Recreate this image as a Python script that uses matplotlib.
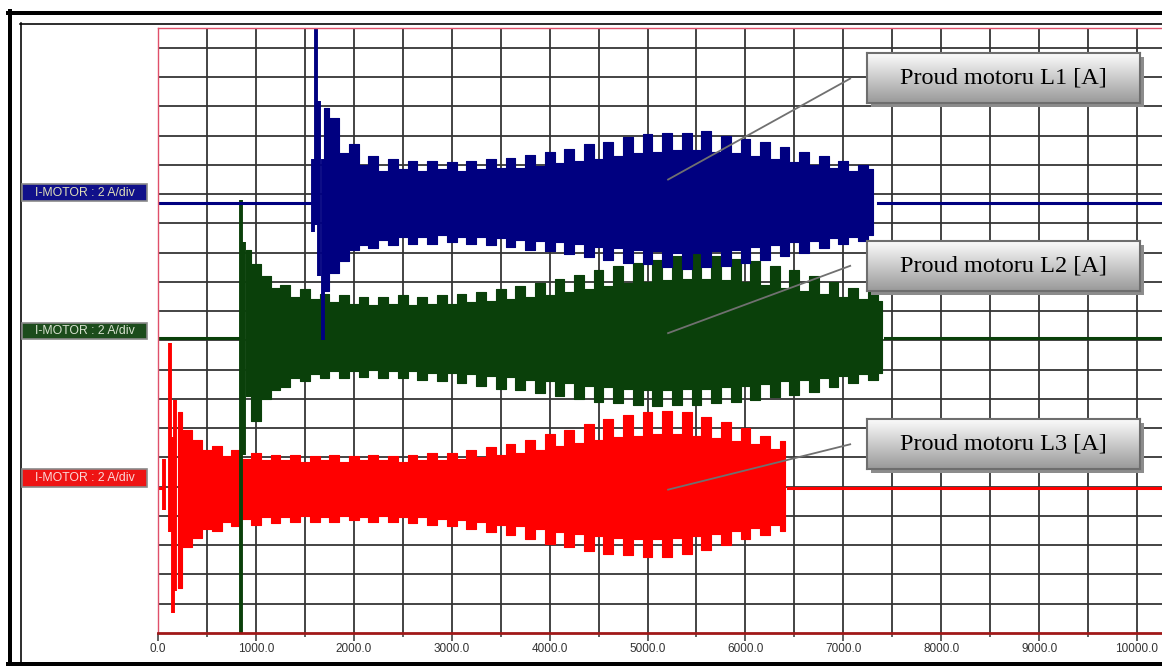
import numpy as np
import matplotlib.pyplot as plt
from matplotlib.lines import Line2D
from matplotlib.patches import Rectangle
from matplotlib.colors import LinearSegmentedColormap

plt.rcParams['font.family'] = ['Liberation Sans', 'DejaVu Sans']

# time in ms, currents in A (scope scale 2 A/div)
x_ticks = [0, 1000, 2000, 3000, 4000, 5000, 6000, 7000, 8000, 9000, 10000]
tick_labels = ['0.0', '1000.0', '2000.0', '3000.0', '4000.0', '5000.0',
               '6000.0', '7000.0', '8000.0', '9000.0', '10000.0']
scale = 2.0  # A/div

# L1 - envelope peaks every 100 ms from 1700 ms
l1_t0 = 1700
l1_hi = [6.5, 5.8, 3.4, 4.0, 2.6, 3.2, 2.2, 3.0, 2.3, 2.9,
         2.2, 2.9, 2.3, 2.8, 2.2, 2.9, 2.3, 3.0, 2.4, 3.1,
         2.4, 3.3, 2.5, 3.5, 2.7, 3.7, 2.9, 4.0, 3.0, 4.2,
         3.2, 4.5, 3.4, 4.7, 3.5, 4.8, 3.6, 4.8, 3.6, 4.9,
         3.5, 4.6, 3.4, 4.4, 3.2, 4.2, 3.0, 3.8, 2.8, 3.5,
         2.6, 3.2, 2.4, 2.9, 2.2, 2.6, 2.3]
l1_lo = [-6.0, -4.8, -4.0, -3.2, -2.9, -3.1, -2.5, -2.9, -2.3, -2.8,
         -2.3, -2.8, -2.2, -2.7, -2.3, -2.8, -2.3, -2.9, -2.4, -3.0,
         -2.5, -3.2, -2.6, -3.3, -2.7, -3.5, -2.8, -3.7, -3.0, -3.9,
         -3.1, -4.1, -3.2, -4.2, -3.3, -4.4, -3.4, -4.5, -3.4, -4.4,
         -3.3, -4.3, -3.2, -4.1, -3.0, -3.9, -2.9, -3.6, -2.7, -3.4,
         -2.6, -3.1, -2.4, -2.8, -2.3, -2.6, -2.2]
l1_spike_t = [1580, 1610, 1640, 1690]
l1_spike_hi = [3.0, 12.5, 7.0, 3.0]
l1_spike_lo = [-2.0, -1.5, -5.0, -9.4]
l1_on, l1_off = 1560, 7350

# L2 - from 900 ms
l2_t0 = 900
l2_hi = [6.0, 5.0, 4.2, 3.4, 3.6, 2.8, 3.3, 2.6, 3.0, 2.4,
         2.9, 2.3, 2.8, 2.2, 2.8, 2.3, 2.9, 2.2, 2.8, 2.3,
         2.9, 2.3, 3.0, 2.4, 3.1, 2.5, 3.3, 2.6, 3.5, 2.8,
         3.7, 2.9, 4.0, 3.1, 4.3, 3.3, 4.6, 3.5, 4.9, 3.7,
         5.1, 3.8, 5.3, 3.9, 5.6, 4.0, 5.7, 4.0, 5.6, 3.9,
         5.4, 3.8, 5.2, 3.6, 4.9, 3.4, 4.6, 3.2, 4.2, 3.0,
         3.8, 2.8, 3.4, 2.6, 3.1, 2.5]
l2_lo = [-4.0, -5.7, -4.2, -3.6, -3.4, -2.8, -3.0, -2.5, -2.8, -2.3,
         -2.8, -2.3, -2.7, -2.2, -2.8, -2.3, -2.8, -2.3, -2.9, -2.4,
         -3.0, -2.4, -3.1, -2.5, -3.3, -2.6, -3.5, -2.7, -3.6, -2.9,
         -3.8, -3.0, -4.0, -3.1, -4.2, -3.3, -4.4, -3.4, -4.5, -3.5,
         -4.6, -3.6, -4.7, -3.6, -4.6, -3.5, -4.6, -3.5, -4.5, -3.4,
         -4.4, -3.3, -4.3, -3.2, -4.1, -3.0, -3.9, -2.9, -3.7, -2.8,
         -3.4, -2.6, -3.1, -2.5, -2.9, -2.4]
l2_spike_t = [850, 875]
l2_spike_hi = [9.4, 6.5]
l2_spike_lo = [-21.0, -8.0]
l2_on, l2_off = 845, 7430

# L3 - from 200 ms
l3_t0 = 200
l3_hi = [5.2, 4.0, 3.3, 2.6, 2.9, 2.2, 2.6, 2.0, 2.4, 1.9,
         2.3, 1.9, 2.3, 1.8, 2.2, 1.9, 2.3, 1.8, 2.2, 1.9,
         2.3, 1.9, 2.2, 1.8, 2.3, 1.9, 2.4, 1.9, 2.4, 2.0,
         2.6, 2.1, 2.8, 2.3, 3.0, 2.4, 3.3, 2.6, 3.7, 2.9,
         4.0, 3.1, 4.4, 3.3, 4.7, 3.5, 5.0, 3.6, 5.2, 3.7,
         5.3, 3.7, 5.2, 3.6, 4.9, 3.4, 4.5, 3.2, 4.1, 3.0,
         3.6, 2.7, 3.2]
l3_lo = [-6.8, -4.0, -3.4, -2.8, -2.9, -2.3, -2.6, -2.1, -2.5, -2.0,
         -2.4, -2.0, -2.3, -1.9, -2.3, -2.0, -2.3, -1.9, -2.2, -2.0,
         -2.3, -1.9, -2.3, -2.0, -2.4, -2.0, -2.5, -2.1, -2.6, -2.2,
         -2.8, -2.3, -3.0, -2.5, -3.2, -2.6, -3.5, -2.8, -3.8, -3.0,
         -4.0, -3.1, -4.3, -3.3, -4.5, -3.4, -4.6, -3.5, -4.7, -3.5,
         -4.7, -3.4, -4.5, -3.3, -4.2, -3.1, -3.9, -2.9, -3.5, -2.7,
         -3.2, -2.5, -2.9]
l3_spike_t = [60, 120, 150, 175]
l3_spike_hi = [2.0, 9.9, 3.5, 6.0]
l3_spike_lo = [-1.5, -3.0, -8.5, -7.0]
l3_on, l3_off = 50, 6440

channel_names = ['Proud motoru L1 [A]', 'Proud motoru L2 [A]', 'Proud motoru L3 [A]']
scope_label = 'I-MOTOR : 2 A/div'

W, H = 1162, 666
def fx(px):
    return px / W
def fy(py):
    return 1 - py / H

fig = plt.figure(figsize=(W / 100, H / 100), dpi=100)
fig.patch.set_facecolor('white')

xmax = 10255
ytop = 20.68
ax = fig.add_axes([fx(158), fy(633), fx(1162) - fx(158), fy(28) - fy(633)])
ax.set_xlim(0, xmax)
ax.set_ylim(0, ytop)

ax.set_xticks(x_ticks)
ax.set_xticklabels(tick_labels)
ax.set_xticks(np.arange(500, 10500, 1000), minor=True)
ax.set_yticks(np.arange(1, 21))
ax.tick_params(axis='y', length=0, labelleft=False)
ax.tick_params(axis='x', which='major', length=6, width=1.2, color='#444444',
               labelsize=8.5, labelcolor='#333333', pad=1)
ax.tick_params(axis='x', which='minor', length=3, width=1.2, color='#444444')
ax.grid(True, which='major', color='#353535', lw=1.3)
ax.grid(True, which='minor', axis='x', color='#353535', lw=1.3)
ax.set_axisbelow(True)
for s in ['top', 'left']:
    ax.spines[s].set_color('#e0506a')
    ax.spines[s].set_linewidth(1)
ax.spines['bottom'].set_color('#a01818')
ax.spines['bottom'].set_linewidth(2)
ax.spines['right'].set_visible(False)

# red drawn first, blue on top
channels = [
    (l3_t0, l3_hi, l3_lo, l3_spike_t, l3_spike_hi, l3_spike_lo, l3_on, l3_off, 4.95, '#ff0000'),
    (l2_t0, l2_hi, l2_lo, l2_spike_t, l2_spike_hi, l2_spike_lo, l2_on, l2_off, 10.1, '#0a400a'),
    (l1_t0, l1_hi, l1_lo, l1_spike_t, l1_spike_hi, l1_spike_lo, l1_on, l1_off, 14.7, '#000080'),
]
for t0, hi, lo, st, sh, sl, on, off, base, c in channels:
    t = t0 + 100 * np.arange(len(hi))
    hi = np.array(hi)
    lo = np.array(lo)
    ax.plot([0, on], [base, base], color=c, lw=2.2)
    ax.plot([off, xmax], [base, base], color=c, lw=2.2)
    ax.fill_between(t, base + lo / scale, base + hi / scale, step='mid',
                    color=c, lw=0.8, ec=c)
    ax.vlines(st, base + np.array(sl) / scale, base + np.array(sh) / scale,
              color=c, lw=2.8)

# callout lines
tips = [(5210, 15.5), (5210, 10.25), (5210, 4.9)]
tails = [(7070, 18.95), (7070, 12.55), (7070, 6.45)]
for (x0, y0), (x1, y1) in zip(tips, tails):
    ax.plot([x0, x1], [y0, y1], color='#707070', lw=1.3, zorder=6)

# frame
frame = [
    ((8, 1162), (13, 13), 4), ((10, 10), (11, 666), 4),
    ((20, 1162), (23.5, 23.5), 1.6), ((20.5, 20.5), (23, 666), 1.6),
    ((8, 1162), (663.5, 663.5), 5),
]
for xs, ys, lw in frame:
    fig.add_artist(Line2D([fx(x) for x in xs], [fy(y) for y in ys],
                          transform=fig.transFigure, color='black',
                          lw=lw * 0.72, zorder=2))

# scope channel labels on the left
label_boxes = [(184, 201, '#10108a', '#e0e0b8'),
               (323, 339, '#1c4c1c', '#d8e2d0'),
               (469, 487, '#ee1414', '#fbd8d8')]
for y0, y1, fc, tc in label_boxes:
    fig.add_artist(Rectangle((fx(22), fy(y1)), fx(147) - fx(22), fy(y0) - fy(y1),
                             transform=fig.transFigure, fc=fc, ec='#8a8a8a',
                             lw=1.2, zorder=2))
    fig.text(fx(84.5), fy((y0 + y1) / 2), scope_label, ha='center', va='center',
             fontsize=8.8, color=tc, zorder=3)

# callout boxes with grey gradient
grad = LinearSegmentedColormap.from_list('g', ['#fbfbfb', '#9a9a9a'])
box_tops = [53, 241, 419]
for top, name in zip(box_tops, channel_names):
    fig.add_artist(Rectangle((fx(871), fy(top + 54)), fx(1144) - fx(871), 50 / H,
                             transform=fig.transFigure, fc='#8c8c8c', ec='none',
                             zorder=2))
    bax = fig.add_axes([fx(867), fy(top + 50), fx(1140) - fx(867), 50 / H])
    bax.set_zorder(3)
    bax.imshow(np.linspace(0, 1, 60)[:, None], cmap=grad, aspect='auto',
               extent=[0, 1, 0, 1])
    bax.set_xticks([])
    bax.set_yticks([])
    for s in bax.spines.values():
        s.set_color('#6e6e6e')
        s.set_linewidth(1.5)
    bax.text(0.5, 0.5, name, ha='center', va='center', fontsize=17.5,
             family='Liberation Serif', color='black', transform=bax.transAxes)

fig.savefig('out.png', dpi=100)
